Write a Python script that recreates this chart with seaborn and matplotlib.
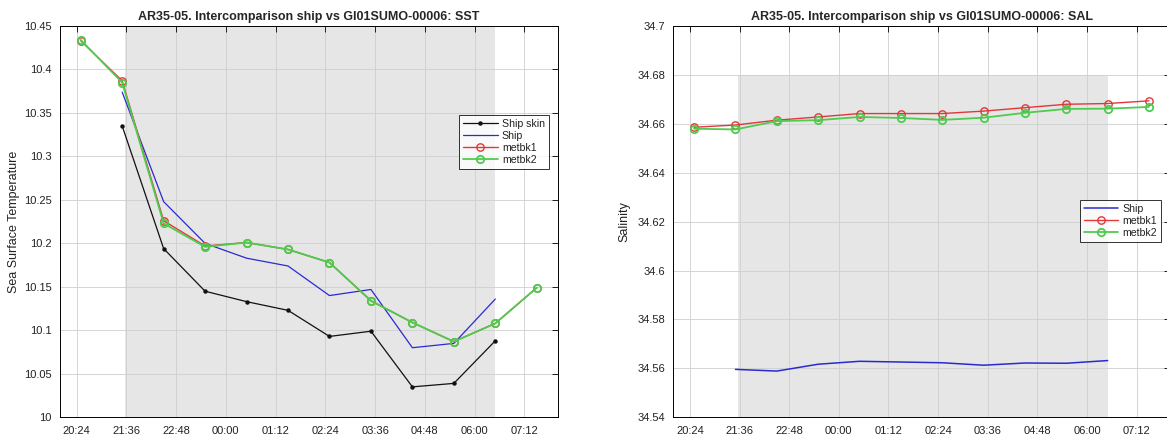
import matplotlib
matplotlib.use("Agg")
import matplotlib.pyplot as plt
import matplotlib.dates as mdates
import numpy as np
import pandas as pd
import seaborn as sns

# ---------------- data ----------------
day0 = "2019-05-15"
day1 = "2019-05-16"

# hourly buoy (metbk) samples
buoy_times = ["20:30", "21:30", "22:30", "23:30", "00:30", "01:30",
              "02:30", "03:30", "04:30", "05:30", "06:30", "07:30"]
# ship samples while alongside
ship_times = ["21:30", "22:30", "23:30", "00:30", "01:30",
              "02:30", "03:30", "04:30", "05:30", "06:30"]

sst_ship_skin = [10.335, 10.194, 10.145, 10.133, 10.123, 10.093, 10.099, 10.035, 10.039, 10.088]
sst_ship = [10.374, 10.248, 10.200, 10.183, 10.174, 10.140, 10.147, 10.080, 10.085, 10.136]
sst_metbk1 = [10.433, 10.387, 10.226, 10.197, 10.201, 10.193, 10.178, 10.134, 10.109, 10.087, 10.108, 10.149]
sst_metbk2 = [10.434, 10.385, 10.223, 10.196, 10.201, 10.193, 10.178, 10.134, 10.109, 10.087, 10.108, 10.149]

sal_ship = [34.5596, 34.5589, 34.5617, 34.5629, 34.5626, 34.5623, 34.5613, 34.5622, 34.5621, 34.5632]
sal_metbk1 = [34.6586, 34.6595, 34.6615, 34.6628, 34.6642, 34.6642, 34.6642, 34.6652, 34.6666, 34.6680, 34.6683, 34.6694]
sal_metbk2 = [34.6580, 34.6577, 34.6611, 34.6615, 34.6628, 34.6624, 34.6616, 34.6625, 34.6645, 34.6661, 34.6662, 34.6669]

# intercomparison window
window = ["21:34", "06:30"]
sst_window_y = [10.0, 10.45]
sal_window_y = [34.54, 34.68]

x_limits = ["20:00", "08:00"]
x_ticks = ["20:24", "21:36", "22:48", "00:00", "01:12", "02:24",
           "03:36", "04:48", "06:00", "07:12"]
sst_ticks = [10.0, 10.05, 10.1, 10.15, 10.2, 10.25, 10.3, 10.35, 10.4, 10.45]
sal_ticks = [34.54, 34.56, 34.58, 34.6, 34.62, 34.64, 34.66, 34.68, 34.7]

title_sst = "AR35-05. Intercomparison ship vs GI01SUMO-00006: SST"
title_sal = "AR35-05. Intercomparison ship vs GI01SUMO-00006: SAL"


def to_time(hhmm):
    """Evening hours belong to the first day, morning hours to the next."""
    day = day0 if int(hhmm[:2]) >= 12 else day1
    return pd.Timestamp(f"{day} {hhmm}")


def to_times(values):
    return [to_time(v) for v in values]


# ---------------- style ----------------
sns.set_theme(style="white")
plt.rcParams["font.family"] = ["Liberation Sans", "DejaVu Sans"]
plt.rcParams["axes.edgecolor"] = "black"
plt.rcParams["axes.linewidth"] = 0.7

C_SKIN = "#111111"
C_SHIP = "#2a2ad0"
C_MET1 = "#e0383a"
C_MET2 = "#4fcb4f"
C_SHADE = "#e6e6e6"
C_GRID = "#cfcfcf"
C_TEXT = "#222222"

TICK_FS = 8
LABEL_FS = 9
TITLE_FS = 9
LEGEND_FS = 7.6

fig = plt.figure(figsize=(11.67, 4.37), dpi=100)
ax1 = fig.add_axes([60 / 1167, 19.7 / 437, 497.5 / 1167, 391.3 / 437])
ax2 = fig.add_axes([673.4 / 1167, 19.7 / 437, 496.3 / 1167, 391.3 / 437])


def fmt(v):
    return f"{v:.2f}".rstrip("0").rstrip(".")


def style_axes(ax, yticks):
    ax.set_xlim(to_time(x_limits[0]), to_time(x_limits[1]))
    ax.set_xticks(to_times(x_ticks))
    ax.xaxis.set_major_formatter(mdates.DateFormatter("%H:%M"))
    ax.set_ylim(yticks[0], yticks[-1])
    ax.set_yticks(yticks)
    ax.set_yticklabels([fmt(v) for v in yticks])
    ax.set_axisbelow(True)
    ax.grid(True, color=C_GRID, linewidth=0.6)
    ax.tick_params(direction="in", length=4, width=0.6, colors="black",
                   top=True, right=True, labelsize=TICK_FS, labelcolor=C_TEXT)
    ax.tick_params(axis="x", pad=6)
    ax.tick_params(axis="y", pad=6)
    for s in ax.spines.values():
        s.set_visible(True)
        s.set_color("black")
        s.set_linewidth(0.7)


def draw(ax, times, values, color, label, marker=None, lw=0.9, ms=5.3,
         mew=1.0, hollow=False, z=3):
    df = pd.DataFrame({"time": to_times(times), "value": values})
    kws = dict(color=color, linewidth=lw, zorder=z, label=label)
    if marker is not None:
        kws.update(marker=marker, markersize=ms, markeredgecolor=color,
                   markeredgewidth=mew)
        kws["markerfacecolor"] = "none" if hollow else color
    sns.lineplot(data=df, x="time", y="value", ax=ax, sort=False,
                 estimator=None, **kws)


def add_legend(ax, anchor):
    leg = ax.legend(loc="upper right", bbox_to_anchor=anchor,
                    fontsize=LEGEND_FS, frameon=True, fancybox=False,
                    handlelength=3.3, handletextpad=0.4, borderpad=0.35,
                    labelspacing=0.2, borderaxespad=0)
    leg.get_frame().set_edgecolor("black")
    leg.get_frame().set_linewidth(0.7)
    for t in leg.get_texts():
        t.set_color(C_TEXT)
    return leg


# ---------------- SST panel ----------------
ax1.fill_between(to_times(window), sst_window_y[0], sst_window_y[1],
                 color=C_SHADE, linewidth=0, zorder=0.2)
draw(ax1, ship_times, sst_ship_skin, C_SKIN, "Ship skin", marker="o", ms=2.2)
draw(ax1, ship_times, sst_ship, C_SHIP, "Ship")
draw(ax1, buoy_times, sst_metbk1, C_MET1, "metbk1", marker="o", lw=1.0,
     hollow=True, z=4)
draw(ax1, buoy_times, sst_metbk2, C_MET2, "metbk2", marker="o", lw=1.3,
     mew=1.3, hollow=True, z=5)
style_axes(ax1, sst_ticks)
ax1.set_xlabel("")
ax1.set_ylabel("Sea Surface Temperature", fontsize=LABEL_FS, color=C_TEXT)
ax1.yaxis.set_label_coords(-0.08, 0.5)
ax1.set_title(title_sst, fontsize=TITLE_FS, fontweight="bold", pad=4)
add_legend(ax1, (0.982, 0.7725))

# ---------------- SAL panel ----------------
ax2.fill_between(to_times(window), sal_window_y[0], sal_window_y[1],
                 color=C_SHADE, linewidth=0, zorder=0.2)
draw(ax2, ship_times, sal_ship, C_SHIP, "Ship", lw=1.1)
draw(ax2, buoy_times, sal_metbk1, C_MET1, "metbk1", marker="o", lw=1.0,
     hollow=True, z=4)
draw(ax2, buoy_times, sal_metbk2, C_MET2, "metbk2", marker="o", lw=1.3,
     mew=1.3, hollow=True, z=5)
style_axes(ax2, sal_ticks)
ax2.set_xlabel("")
ax2.set_ylabel("Salinity", fontsize=LABEL_FS, color=C_TEXT)
ax2.yaxis.set_label_coords(-0.0875, 0.5)
ax2.set_title(title_sal, fontsize=TITLE_FS, fontweight="bold", pad=4)
add_legend(ax2, (0.9825, 0.5553))

fig.savefig("out.png", dpi=100, facecolor="white")
